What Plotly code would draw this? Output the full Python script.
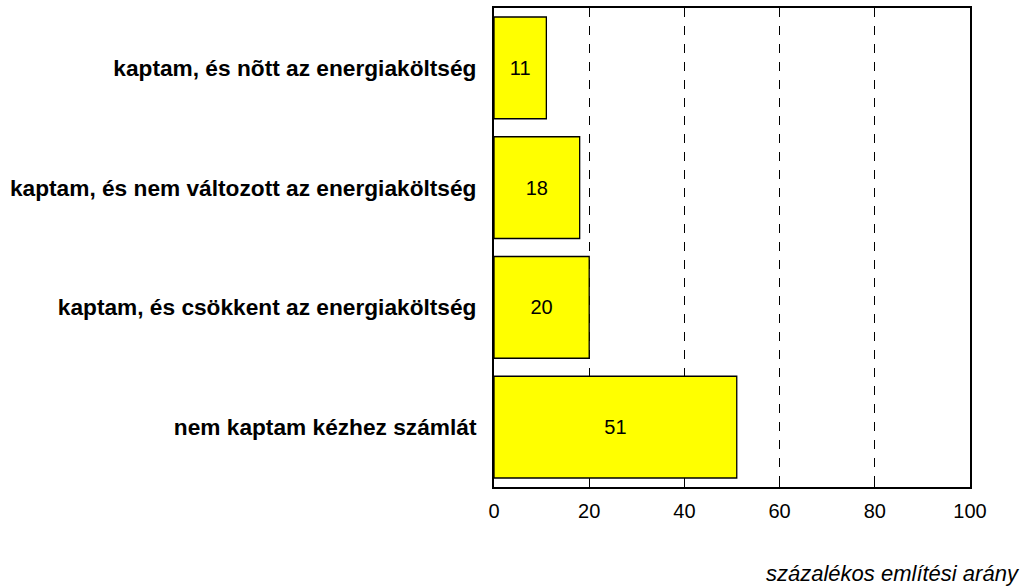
import plotly.graph_objects as go

categories = [
    "kaptam, és nõtt az energiaköltség",
    "kaptam, és nem változott az energiaköltség",
    "kaptam, és csökkent az energiaköltség",
    "nem kaptam kézhez számlát",
]
values = [11, 18, 20, 51]
tick_vals = [0, 20, 40, 60, 80, 100]
x_title = "százalékos említési arány"

FONT = "Liberation Sans Narrow, Arial Narrow, Liberation Sans, Arial"

fig = go.Figure()
fig.add_trace(go.Bar(
    y=categories,
    x=values,
    orientation="h",
    width=0.85,
    marker=dict(color="#FFFF00", line=dict(color="black", width=1.3)),
    text=[str(v) for v in values],
    textposition="inside",
    insidetextanchor="middle",
    textfont=dict(family=FONT, size=20, color="black"),
    textangle=0,
    cliponaxis=False,
    hoverinfo="skip",
))

fig.update_layout(
    width=1022, height=588,
    margin=dict(l=494, r=52, t=8, b=101),
    paper_bgcolor="white",
    plot_bgcolor="white",
    showlegend=False,
    font=dict(family=FONT, color="black"),
    uniformtext=dict(mode=False),
)

fig.update_xaxes(
    range=[0, 100],
    tickvals=tick_vals,
    ticktext=[str(t) for t in tick_vals],
    tickfont=dict(family=FONT, size=20, color="black"),
    ticks="inside", ticklen=8, tickcolor="black", tickwidth=1,
    ticklabelstandoff=5,
    showgrid=True, gridcolor="black", griddash="dash", gridwidth=1,
    showline=True, linecolor="black", linewidth=2, mirror=True,
    zeroline=False,
    automargin=False,
)
fig.update_yaxes(
    categoryorder="array",
    categoryarray=categories[::-1],
    range=[-0.5, 3.5],
    autorange=False,
    tickfont=dict(family=FONT, size=22.7, color="black", weight="bold"),
    showline=True, linecolor="black", linewidth=2, mirror=True,
    ticks="", ticklen=0,
    ticklabelstandoff=11,
    showgrid=False,
    automargin=False,
)

fig.add_annotation(
    text=x_title,
    xref="paper", yref="paper",
    x=1 + 52/476, y=-87/479,
    xanchor="right", yanchor="middle",
    showarrow=False,
    font=dict(family=FONT, size=22, color="black", style="italic"),
)

fig.write_html(
    "out.html",
    config={"displayModeBar": False},
    post_script="document.body.style.margin='0px';",
)
